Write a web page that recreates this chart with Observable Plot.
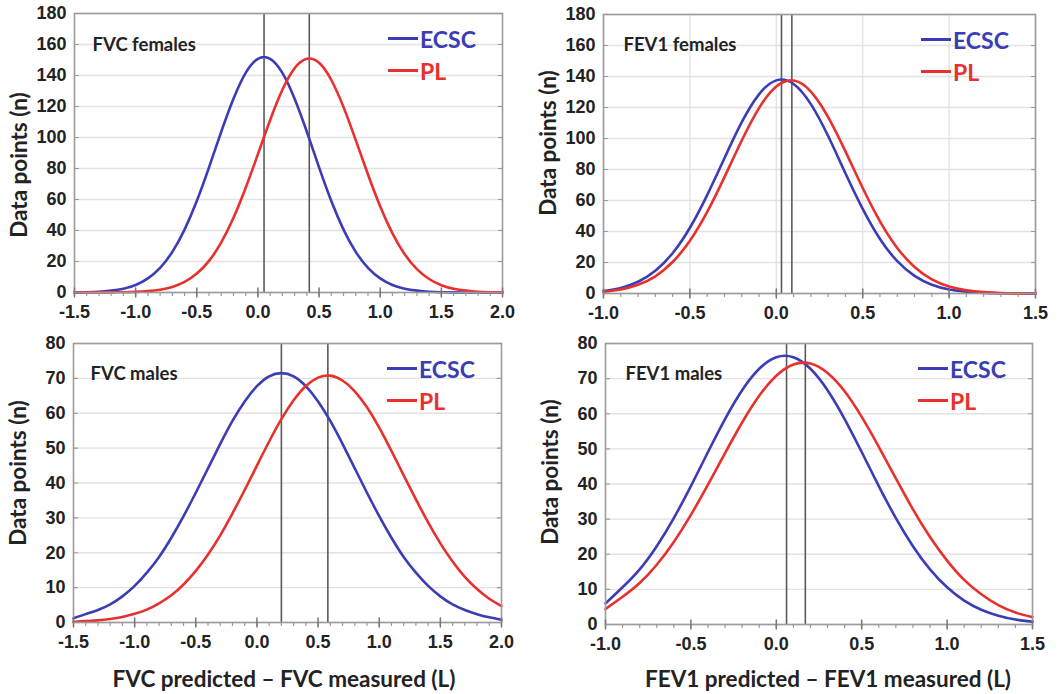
<!DOCTYPE html>
<html>
<head>
<meta charset="utf-8">
<script src="https://cdn.jsdelivr.net/npm/d3@7"></script>
<script src="https://cdn.jsdelivr.net/npm/@observablehq/plot@0.6"></script>
<style>
  html, body { margin: 0; padding: 0; background: #fff; }
  #root { position: relative; width: 1064px; height: 694px; overflow: hidden; background: #fff; }
  .panel { position: absolute; }
  .legend-line { position: absolute; height: 3px; }
  .legend-text { position: absolute; font-family: Lato, "Open Sans", sans-serif; font-weight: bold; font-size: 23px; line-height: 23px; transform: translateY(-50%); white-space: nowrap; }
  .xtitle { position: absolute; font-family: Lato, "Open Sans", sans-serif; font-weight: bold; font-size: 22.5px; color: #222; transform: translate(-50%, -50%); white-space: nowrap; }
</style>
</head>
<body>
<div id="root"></div>
<script>
// ---------- data ----------
const fvcX  = [-1.5,-1.4,-1.3,-1.2,-1.1,-1.0,-0.9,-0.8,-0.7,-0.6,-0.5,-0.4,-0.3,-0.2,-0.1,0.0,0.1,0.2,0.3,0.4,0.5,0.6,0.7,0.8,0.9,1.0,1.1,1.2,1.3,1.4,1.5,1.6,1.7,1.8,1.9,2.0];
const fev1X = [-1.0,-0.9,-0.8,-0.7,-0.6,-0.5,-0.4,-0.3,-0.2,-0.1,0.0,0.1,0.2,0.3,0.4,0.5,0.6,0.7,0.8,0.9,1.0,1.1,1.2,1.3,1.4,1.5];

const fvcFemalesECSC = [0.1,0.2,0.5,1.2,2.4,4.8,9.1,15.9,26.2,40.6,59,80.7,103.7,125,141.7,150.8,150.8,141.7,125,103.7,80.7,59,40.6,26.2,15.9,9.1,4.8,2.4,1.2,0.5,0.2,0.1,0,0,0,0];
const fvcFemalesPL   = [0,0,0,0.1,0.2,0.4,0.9,1.8,3.6,6.8,12.2,20.4,32.3,48.2,67.6,89.3,111.3,130.8,144.7,150.8,148.2,137.1,119.6,98.3,76.1,55.5,38.2,24.7,15.1,8.7,4.7,2.4,1.2,0.5,0.2,0.1];

const fev1FemalesECSC = [1.6,3.6,7.6,14.7,26.0,42.4,63.5,87.3,110.5,128.5,137.5,135.2,122.2,101.6,77.6,54.6,35.2,20.9,11.4,5.7,2.6,1.1,0.4,0.2,0.1,0];
const fev1FemalesPL   = [1.1,2.6,5.6,11.1,20.3,34.0,52.6,75.1,98.7,119.6,133.5,137.4,130.3,113.8,91.7,68.1,46.6,29.4,17.1,9.1,4.5,2.1,0.9,0.3,0.1,0];

const fvcMalesECSC = [1.2,2.4,3.6,5.2,7.5,10.5,14.3,18.8,24.3,30.5,37.2,44.2,51.2,57.8,63.4,67.8,70.6,71.5,70.6,67.8,63.4,57.8,51.2,44.2,37.2,30.5,24.3,18.8,14.3,10.5,7.5,5.2,3.6,2.4,1.5,0.8];
const fvcMalesPL   = [0.2,0.4,0.6,1.0,1.6,2.5,3.7,5.5,7.8,10.9,14.8,19.5,25.0,31.3,38.0,45.0,51.9,58.3,63.7,67.8,70.2,70.8,69.4,66.3,61.7,55.9,49.2,42.2,35.3,28.7,22.7,17.5,13.1,9.6,6.8,4.7];

const fev1MalesECSC = [6.0,10.6,15.7,22.3,30.3,39.4,49.1,58.5,66.7,72.8,76.1,76.1,72.8,66.7,58.5,49.1,39.4,30.3,22.3,15.7,10.6,6.8,4.2,2.5,1.4,0.8];
const fev1MalesPL   = [4.4,7.9,11.8,17.0,23.5,31.2,39.8,48.8,57.5,65.1,70.8,74.0,74.3,71.6,66.4,59.1,50.6,41.6,32.8,24.9,18.2,12.7,8.6,5.5,3.4,2.1];

const fvcFemalesMeans  = [0.05, 0.42];
const fev1FemalesMeans = [0.03, 0.09];
const fvcMalesMeans    = [0.20, 0.58];
const fev1MalesMeans   = [0.06, 0.17];

const fvcTicks  = [-1.5,-1.0,-0.5,0.0,0.5,1.0,1.5,2.0];
const fev1Ticks = [-1.0,-0.5,0.0,0.5,1.0,1.5];
const femaleYTicks = [0,20,40,60,80,100,120,140,160,180];
const maleYTicks   = [0,10,20,30,40,50,60,70,80];

const seriesNames = ["ECSC", "PL"];
const panelTitles = ["FVC females", "FEV1 females", "FVC males", "FEV1 males"];
const yTitle = "Data points (n)";
const xTitles = ["FVC predicted \u2013 FVC measured (L)", "FEV1 predicted \u2013 FEV1 measured (L)"];

// ---------- styling ----------
const BLUE = "#3a3db4";
const RED = "#e8302c";
const TICKFONT = "'Liberation Sans', Arial, sans-serif";
const root = document.getElementById("root");

const tickShape = { draw(ctx, l) { ctx.moveTo(0, 0); ctx.lineTo(0, -l); } };

function panel(cfg) {
  const ecsc = cfg.xs.map((x, i) => ({x, y: cfg.ecsc[i]}));
  const pl = cfg.xs.map((x, i) => ({x, y: cfg.pl[i]}));
  const chart = Plot.plot({
    width: cfg.w, height: cfg.h,
    marginLeft: cfg.mL, marginRight: cfg.mR, marginTop: cfg.mT, marginBottom: cfg.mB,
    style: {background: "transparent", overflow: "visible", fontFamily: TICKFONT, fontWeight: "bold", fontSize: "18px", color: "#222"},
    x: {domain: cfg.xDomain},
    y: {domain: cfg.yDomain},
    marks: [
      Plot.gridY(cfg.yTicks, {stroke: "#e2e2e2", strokeOpacity: 1, strokeWidth: 1.3}),
      cfg.gridX ? Plot.gridX(cfg.xTicks, {stroke: "#e2e2e2", strokeOpacity: 1, strokeWidth: 1.3}) : null,
      Plot.ruleX(cfg.means, {x: d => d, stroke: "#5a5a5a", strokeWidth: 1.6}),
      Plot.line(ecsc, {x: "x", y: "y", stroke: BLUE, strokeWidth: 2.6, curve: "natural"}),
      Plot.line(pl, {x: "x", y: "y", stroke: RED, strokeWidth: 2.6, curve: "natural"}),
      Plot.frame({stroke: "#9c9c9c", strokeWidth: 1.6}),
      Plot.vector(cfg.xs, {x: d => d, frameAnchor: "bottom", length: 3, anchor: "end", shape: tickShape, stroke: "#999", strokeWidth: 1.2}),
      Plot.vector(cfg.xTicks, {x: d => d, frameAnchor: "bottom", length: 9, anchor: "middle", shape: tickShape, stroke: "#777", strokeWidth: 1.5}),
      Plot.vector(cfg.yTicks, {y: d => d, frameAnchor: "left", length: 4, rotate: 90, anchor: "start", shape: tickShape, stroke: "#999", strokeWidth: 1.2}),
      Plot.vector(cfg.yTicks, {y: d => d, frameAnchor: "right", length: 4, rotate: -90, anchor: "start", shape: tickShape, stroke: "#999", strokeWidth: 1.2}),
      Plot.axisX(cfg.xTicks, {tickSize: 0, tickPadding: cfg.xPad, tickFormat: d => d.toFixed(1), label: null, fill: "#222", fontSize: 18, fontWeight: "bold", fontFamily: TICKFONT}),
      Plot.axisY(cfg.yTicks, {tickSize: 0, tickPadding: 8, label: null, fill: "#222", fontSize: 18, fontWeight: "bold", fontFamily: TICKFONT}),
      Plot.text([cfg.title], {frameAnchor: "top-left", dx: cfg.tDx, dy: cfg.tDy, textAnchor: "start", fontFamily: "Lato, sans-serif", fontWeight: "bold", fontSize: 18.5, fill: "#222"}),
      Plot.text([yTitle], {frameAnchor: "left", dx: -54.5, dy: cfg.yDy, rotate: -90, textAnchor: "middle", fontFamily: "Lato, sans-serif", fontWeight: "bold", fontSize: 22.5, fill: "#222"})
    ]
  });
  const div = document.createElement("div");
  div.className = "panel";
  div.style.left = cfg.left + "px";
  div.style.top = cfg.top + "px";
  div.appendChild(chart);
  root.appendChild(div);

  // legend overlay
  const plotRight = cfg.left + cfg.w - cfg.mR;
  const plotTop = cfg.top + cfg.mT;
  [[seriesNames[0], BLUE, 25], [seriesNames[1], RED, 57]].forEach(([name, color, off]) => {
    const ln = document.createElement("div");
    ln.className = "legend-line";
    ln.style.background = color;
    ln.style.left = (plotRight - 114) + "px";
    ln.style.width = "30px";
    ln.style.top = (plotTop + off - 1.5) + "px";
    root.appendChild(ln);
    const tx = document.createElement("div");
    tx.className = "legend-text";
    tx.style.color = color;
    tx.style.left = (plotRight - 82) + "px";
    tx.style.top = (plotTop + off + 1) + "px";
    tx.textContent = name;
    root.appendChild(tx);
  });
}

panel({left: 0, top: 0, w: 532, h: 320, mL: 74, mR: 30, mT: 13, mB: 28, xPad: 13,
  xDomain: [-1.5, 2.0], yDomain: [0, 180], xs: fvcX, xTicks: fvcTicks, yTicks: femaleYTicks,
  ecsc: fvcFemalesECSC, pl: fvcFemalesPL, means: fvcFemalesMeans,
  title: panelTitles[0], tDx: 18, tDy: 24, yDy: 12, gridX: false});

panel({left: 532, top: 0, w: 532, h: 320, mL: 71, mR: 29, mT: 14, mB: 27, xPad: 13,
  xDomain: [-1.0, 1.5], yDomain: [0, 180], xs: fev1X, xTicks: fev1Ticks, yTicks: femaleYTicks,
  ecsc: fev1FemalesECSC, pl: fev1FemalesPL, means: fev1FemalesMeans,
  title: panelTitles[1], tDx: 20, tDy: 23, yDy: -11, gridX: true});

panel({left: 0, top: 320, w: 532, h: 330, mL: 73, mR: 31, mT: 23, mB: 28, xPad: 13,
  xDomain: [-1.5, 2.0], yDomain: [0, 80], xs: fvcX, xTicks: fvcTicks, yTicks: maleYTicks,
  ecsc: fvcMalesECSC, pl: fvcMalesPL, means: fvcMalesMeans,
  title: panelTitles[2], tDx: 17, tDy: 23, yDy: -10, gridX: false});

panel({left: 532, top: 320, w: 532, h: 330, mL: 73, mR: 32, mT: 23, mB: 26, xPad: 13,
  xDomain: [-1.0, 1.5], yDomain: [0, 80], xs: fev1X, xTicks: fev1Ticks, yTicks: maleYTicks,
  ecsc: fev1MalesECSC, pl: fev1MalesPL, means: fev1MalesMeans,
  title: panelTitles[3], tDx: 20, tDy: 23, yDy: -12, gridX: false});

// x-axis titles below the bottom row
[[xTitles[0], 284], [xTitles[1], 828]].forEach(([t, cx]) => {
  const d = document.createElement("div");
  d.className = "xtitle";
  d.style.left = cx + "px";
  d.style.top = "678px";
  d.textContent = t;
  root.appendChild(d);
});
</script>
</body>
</html>
